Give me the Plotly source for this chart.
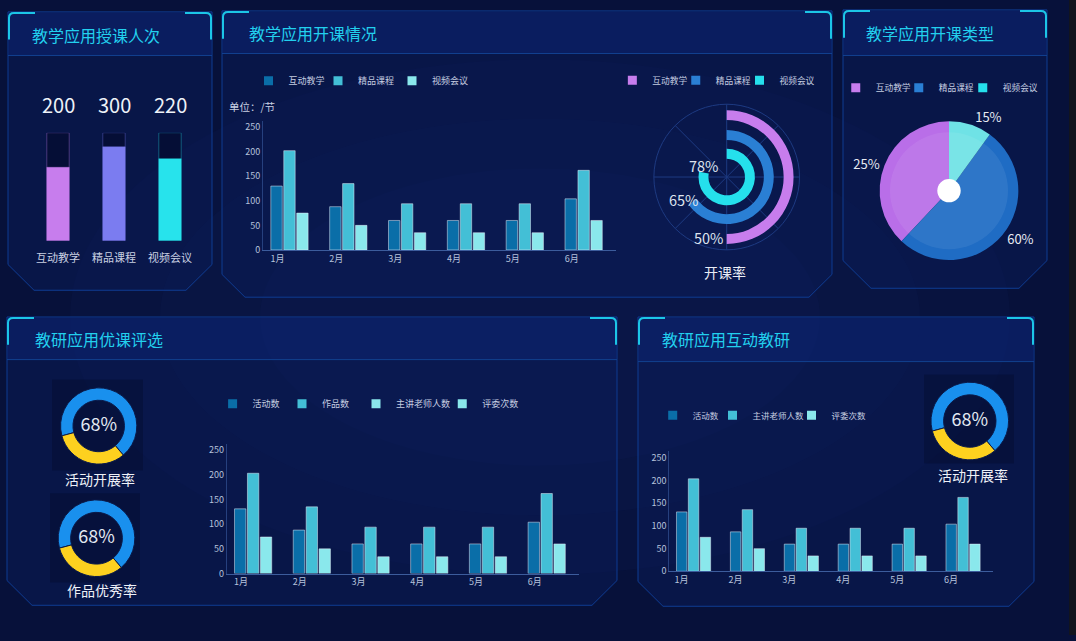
import plotly.graph_objects as go

W, H = 1076, 641


def px(x):
    return x / W


def py(y):
    return 1 - y / H


# ---------------- data ----------------
teach_cats = ["互动教学", "精品课程", "视频会议"]
teach_counts = [200, 300, 220]
teach_fill = [68, 87, 76]          # fill level of each column (% of its box)
teach_capacity = [100, 100, 100]

months = ["1月", "2月", "3月", "4月", "5月", "6月"]
open_series = ["互动教学", "精品课程", "视频会议"]
open_interactive = [130, 88, 60, 60, 60, 104]
open_quality = [202, 135, 94, 94, 94, 162]
open_video = [75, 50, 35, 35, 35, 60]

rate_names = ["互动教学", "精品课程", "视频会议"]
rate_values = [50, 65, 78]

type_names = ["互动教学", "精品课程", "视频会议"]
type_shares = [38, 52, 10]
type_labels = ["25%", "60%", "15%"]

eval_series = ["活动数", "作品数", "主讲老师人数", "评委次数"]
eval_activity = [131, 88, 60, 60, 60, 104]
eval_works = [203, 135, 94, 94, 94, 162]
eval_teachers = [74, 50, 34, 34, 34, 60]

inter_series = ["活动数", "主讲老师人数", "评委次数"]
inter_activity = [131, 87, 60, 60, 60, 104]
inter_teachers = [204, 136, 95, 95, 95, 163]
inter_judges = [75, 50, 34, 34, 34, 60]

gauge_names = ["活动开展率", "作品优秀率", "活动开展率"]
gauge_values = [68, 68, 68]

# ---------------- style ----------------
FONT = "Microsoft YaHei, Noto Sans CJK SC, sans-serif"
BG = "#07113a"
TITLE_C = "#22d0ee"
TICK_C = "#b6c2dc"
LEG_C = "#c5cde0"
teach_colors = ["#c77ded", "#7b7cf0", "#27e3ec"]
teach_edge = ["rgba(199,125,237,0.35)", "rgba(123,124,240,0.35)", "rgba(39,227,236,0.35)"]
bar_colors = ["#0a6ea8", "#43bfd6", "#8ae8ec", "#8ae8ec"]
rate_colors = ["#c77ded", "#2a7fd4", "#25e0ec"]
type_colors = ["#b96ee8", "#1f6cc4", "#6fe2e6"]
type_legend_colors = ["#c77ded", "#2a7fd4", "#25e0ec"]
gauge_colors = ["#1990ee", "#fdd11f"]

fig = go.Figure()

# ---- panel 1 : columns in boxes ----
fig.add_trace(go.Bar(x=teach_cats, y=teach_capacity, xaxis="x", yaxis="y", offsetgroup="t",
                     width=0.4, showlegend=False, hoverinfo="skip",
                     marker=dict(color="rgba(3,10,40,0.55)", line=dict(color=teach_edge, width=1))))
fig.add_trace(go.Bar(x=teach_cats, y=teach_fill, xaxis="x", yaxis="y", offsetgroup="t",
                     width=0.4, showlegend=False,
                     marker=dict(color=teach_colors, line=dict(color=teach_edge, width=1))))

# ---- panel 2 : grouped bars ----
for name, vals, col in zip(open_series, [open_interactive, open_quality, open_video], bar_colors):
    fig.add_trace(go.Bar(x=months, y=vals, name=name, xaxis="x2", yaxis="y2",
                         marker=dict(color=col), showlegend=False))

# ---- panel 2 : rings ----
fig.add_trace(go.Barpolar(r=[10, 10, 10], base=[57.5, 37.5, 18.5],
                          theta=[v * 3.6 / 2 for v in rate_values],
                          width=[v * 3.6 for v in rate_values],
                          marker=dict(color=rate_colors, line=dict(width=0)),
                          subplot="polar", showlegend=False, hoverinfo="skip"))

# ---- panel 3 : pie ----
# counterclockwise pies place the first slice ending at `rotation`
first_slice_deg = type_shares[0] / sum(type_shares) * 360
fig.add_trace(go.Pie(values=type_shares, labels=type_names, text=type_labels,
                     textinfo="text", textposition="outside", sort=False,
                     direction="counterclockwise", rotation=360 - first_slice_deg,
                     marker=dict(colors=type_colors, line=dict(width=0)),
                     outsidetextfont=dict(family=FONT, size=13, color="#e6eaf2"),
                     domain=dict(x=[px(879), px(1019)], y=[py(262.5), py(122.5)]),
                     showlegend=False, hoverinfo="skip"))

# ---- panel 4 : grouped bars ----
for name, vals, col in zip(eval_series[:3], [eval_activity, eval_works, eval_teachers], bar_colors):
    fig.add_trace(go.Bar(x=months, y=vals, name=name, xaxis="x3", yaxis="y3",
                         marker=dict(color=col), showlegend=False))

# ---- panel 5 : grouped bars ----
for name, vals, col in zip(inter_series, [inter_activity, inter_teachers, inter_judges], bar_colors[:3]):
    fig.add_trace(go.Bar(x=months, y=vals, name=name, xaxis="x4", yaxis="y4",
                         marker=dict(color=col), showlegend=False))

# ---- gauges ----
gauge_geo = [(98.7, 430, 38.5), (96.5, 543.3, 38.7), (969.8, 425, 39.2)]
for val, (cx, cy, r) in zip(gauge_values, gauge_geo):
    fig.add_trace(go.Pie(values=[val, 100 - val], sort=False, hole=0.675,
                         direction="clockwise", rotation=255, textinfo="none",
                         marker=dict(colors=gauge_colors, line=dict(color="#0a1a4a", width=1)),
                         title=dict(text=f"{val}%", position="middle center",
                                    font=dict(family=FONT, size=18, color="#e2e8f2")),
                         domain=dict(x=[px(cx - r), px(cx + r)], y=[py(cy + r), py(cy - r)]),
                         showlegend=False, hoverinfo="skip"))

# ---- legends: one small legend per entry so each can sit where the original puts it ----
legend_layout = {}
leg_counter = [0]


def legend_entry(name, color, sym_x, text_x, y, size):
    leg_counter[0] += 1
    key = "legend" if leg_counter[0] == 1 else f"legend{leg_counter[0]}"
    fig.add_trace(go.Scatter(x=[None], y=[None], mode="markers", name=name, legend=key,
                             xaxis="x", yaxis="y", hoverinfo="skip",
                             marker=dict(symbol="square", size=9, color=color)))
    legend_layout[key] = dict(x=px((sym_x + text_x) / 2 - 29.5), y=py(y + 2.5),
                              xanchor="left", yanchor="middle", orientation="h",
                              bgcolor="rgba(0,0,0,0)", borderwidth=0,
                              font=dict(family=FONT, size=size, color=LEG_C))


for n, c, s, t in zip(open_series, bar_colors, [273, 343, 417], [283, 352, 426]):
    legend_entry(n, c, s, t, 79, 9)
for n, c, s, t in zip(rate_names, rate_colors, [637.7, 701.5, 765], [646, 709, 773]):
    legend_entry(n, c, s, t, 78.5, 8.7)
for n, c, s, t in zip(type_names, type_legend_colors, [860.5, 924.5, 988.5], [870, 932, 996]):
    legend_entry(n, c, s, t, 86, 8.7)
for n, c, s, t in zip(eval_series, bar_colors, [237.5, 307, 381, 467.5], [246.7, 316, 390, 476]):
    legend_entry(n, c, s, t, 405, 9)
for n, c, s, t in zip(inter_series, bar_colors, [677.7, 738, 817], [686.7, 746, 825]):
    legend_entry(n, c, s, t, 416.7, 8.5)


# ---------------- shapes ----------------
def path(points):
    return "M " + " L ".join(f"{px(x):.5f},{py(y):.5f}" for x, y in points) + " Z"


shapes = []
for (rx, ry, a) in [(470, 260, 0.05), (380, 200, 0.05), (280, 150, 0.05)]:
    shapes.append(dict(type="circle", xref="paper", yref="paper", layer="below",
                       x0=px(540 - rx), x1=px(540 + rx), y0=py(320 + ry), y1=py(320 - ry),
                       fillcolor=f"rgba(30,55,150,{a})", line=dict(width=0)))
shapes.append(dict(type="rect", xref="paper", yref="paper", layer="below",
                   x0=px(1069), x1=1, y0=0, y1=1, fillcolor="#12151e", line=dict(width=0)))

panels = [(8, 12, 212, 293, 56, 26), (222, 11, 832, 300, 54, 23), (843, 10, 1047, 291, 56, 28),
          (7, 320, 617, 611, 363, 25), (638, 320, 1034, 612, 365, 25)]
for (L, T, R, B, Hb, c) in panels:
    shapes.append(dict(type="path", xref="paper", yref="paper", layer="below",
                       path=path([(L, T), (R, T), (R, B - c), (R - c, B), (L + c, B), (L, B - c)]),
                       fillcolor="rgba(10,28,90,0.45)", line=dict(color="#0f3c92", width=1)))
    shapes.append(dict(type="rect", xref="paper", yref="paper", layer="below",
                       x0=px(L + 0.5), x1=px(R - 0.5), y0=py(Hb), y1=py(T + 0.5),
                       fillcolor="rgba(12,35,112,0.6)", line=dict(width=0)))
    shapes.append(dict(type="line", xref="paper", yref="paper", layer="below",
                       x0=px(L), x1=px(R), y0=py(Hb), y1=py(Hb),
                       line=dict(color="#12408f", width=1)))
    tl = (f"M {px(L + 1):.5f},{py(T + 28):.5f} L {px(L + 1):.5f},{py(T + 6):.5f} "
          f"Q {px(L + 1):.5f},{py(T + 1):.5f} {px(L + 6):.5f},{py(T + 1):.5f} "
          f"L {px(L + 27):.5f},{py(T + 1):.5f}")
    tr = (f"M {px(R - 27):.5f},{py(T + 1):.5f} L {px(R - 6):.5f},{py(T + 1):.5f} "
          f"Q {px(R - 1):.5f},{py(T + 1):.5f} {px(R - 1):.5f},{py(T + 6):.5f} "
          f"L {px(R - 1):.5f},{py(T + 28):.5f}")
    for p in (tl, tr):
        shapes.append(dict(type="path", xref="paper", yref="paper", layer="below", path=p,
                           line=dict(color="#1cc6e6", width=2)))

# faint boxes behind gauges
for (x0, y0, x1, y1) in [(52, 383, 143, 475), (50, 498, 140, 588), (924, 378, 1014, 468)]:
    shapes.append(dict(type="rect", xref="paper", yref="paper", layer="below",
                       x0=px(x0), x1=px(x1), y0=py(y1), y1=py(y0),
                       fillcolor="rgba(3,10,40,0.35)", line=dict(width=0)))

# pie inner highlight and white centre
shapes.append(dict(type="circle", xref="paper", yref="paper", layer="above",
                   x0=px(949 - 59), x1=px(949 + 59), y0=py(192.5 + 59), y1=py(192.5 - 59),
                   fillcolor="rgba(255,255,255,0.07)", line=dict(width=0)))
shapes.append(dict(type="circle", xref="paper", yref="paper", layer="above",
                   x0=px(949 - 11.7), x1=px(949 + 11.7), y0=py(192.5 + 11.7), y1=py(192.5 - 11.7),
                   fillcolor="#ffffff", line=dict(width=0)))

# ---------------- annotations ----------------
ann = []
for text, x, y in [("教学应用授课人次", 30, 35), ("教学应用开课情况", 246.7, 33.3),
                   ("教学应用开课类型", 864, 33.7), ("教研应用优课评选", 33, 342.3),
                   ("教研应用互动教研", 660, 341.7)]:
    ann.append(dict(text=text, x=px(x), y=py(y), xref="paper", yref="paper", xanchor="left",
                    yanchor="middle", showarrow=False,
                    font=dict(family=FONT, size=16, color=TITLE_C)))

for cat, cnt, cap in zip(teach_cats, teach_counts, teach_capacity):
    ann.append(dict(text=str(cnt), x=cat, y=cap, xref="x", yref="y", yanchor="bottom",
                    yshift=12, showarrow=False, font=dict(family=FONT, size=20, color="#eef2f8")))

ann.append(dict(text="单位：/节", x=px(226.7), y=py(107.3), xref="paper", yref="paper",
                xanchor="left", yanchor="middle", showarrow=False,
                font=dict(family=FONT, size=10.5, color="#c8d0e2")))

for v, (x, y) in zip(rate_values, [(708.3, 239.3), (683.7, 201.7), (703.3, 166.7)]):
    ann.append(dict(text=f"{v}%", x=px(x), y=py(y), xref="paper", yref="paper",
                    xanchor="center", yanchor="middle", showarrow=False,
                    font=dict(family=FONT, size=14.5, color="#dde3ee")))
ann.append(dict(text="开课率", x=px(724.5), y=py(275), xref="paper", yref="paper",
                xanchor="center", yanchor="middle", showarrow=False,
                font=dict(family=FONT, size=14, color="#e8ecf5")))

for name, (x, y) in zip(gauge_names, [(100, 484), (101.7, 595.7), (973.3, 479)]):
    ann.append(dict(text=name, x=px(x), y=py(y), xref="paper", yref="paper",
                    xanchor="center", yanchor="middle", showarrow=False,
                    font=dict(family=FONT, size=14, color="#eef1f7")))


# ---------------- axes ----------------
def xax(d0, d1, anchor, **kw):
    a = dict(domain=[px(d0), px(d1)], anchor=anchor, type="category", range=[-0.45, 5.55],
             showgrid=False, zeroline=False, showline=True, linecolor="#3c5c9c", linewidth=1,
             ticks="", tickfont=dict(family=FONT, size=9, color=TICK_C), ticklabelshift=-12,
             fixedrange=True)
    a.update(kw)
    return a


def yax(bottom, top, rmax, anchor):
    return dict(domain=[py(bottom), py(top)], anchor=anchor, range=[0, rmax], dtick=50,
                showgrid=False, zeroline=False, showline=True, linecolor="#26407e",
                linewidth=1, ticks="", tickfont=dict(family=FONT, size=9, color=TICK_C),
                fixedrange=True)


fig.update_layout(
    width=W, height=H, margin=dict(l=0, r=0, t=0, b=0),
    paper_bgcolor=BG, plot_bgcolor="rgba(0,0,0,0)",
    font=dict(family=FONT, color=LEG_C),
    barmode="group", bargap=0.34, bargroupgap=0.12,
    xaxis=dict(domain=[px(30), px(198)], anchor="y", type="category", showgrid=False,
               zeroline=False, showline=False, ticks="", ticklabelstandoff=9,
               tickfont=dict(family=FONT, size=11, color="#c8d0e2"), fixedrange=True),
    yaxis=dict(domain=[py(243), py(134)], anchor="x", range=[0, 100], visible=False,
               fixedrange=True),
    xaxis2=xax(263, 616, "y2"),
    yaxis2=yax(252.3, 121.7, 263.3, "x2"),
    xaxis3=xax(226.7, 579, "y3"),
    yaxis3=yax(579, 447.7, 263.2, "x3"),
    xaxis4=xax(669.3, 992.7, "y4"),
    yaxis4=yax(576.7, 455.7, 264.4, "x4"),
    polar=dict(domain=dict(x=[px(726.7 - 73.5), px(726.7 + 73.5)],
                           y=[py(178.7 + 73.5), py(178.7 - 73.5)]),
               bgcolor="rgba(0,0,0,0)",
               radialaxis=dict(visible=False, range=[0, 73.5]),
               angularaxis=dict(direction="clockwise", rotation=90, dtick=45, tick0=0,
                                showticklabels=False, ticks="", showgrid=True,
                                gridcolor="#1d3a82", showline=True, linecolor="#1d3a82")),
    shapes=shapes,
    annotations=ann,
    showlegend=True,
    **legend_layout,
)

fig.write_html("out.html", config={"displayModeBar": False},
               post_script="document.body.style.margin='0';document.body.style.overflow='hidden';")
